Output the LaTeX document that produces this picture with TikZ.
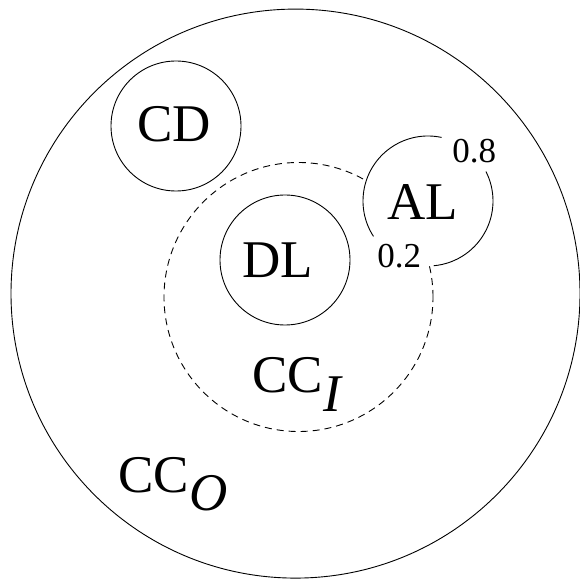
\documentclass[tikz,border=0pt]{standalone}
\usepackage{fontspec}
\setmainfont{Liberation Serif}
\begin{document}
\begin{tikzpicture}[x=1pt,y=1pt,line width=0.9pt,
  ring/.style={circle,draw,minimum size=130pt,inner sep=0pt},
  bigtext/.style={font=\fontsize{53}{56}\selectfont,inner sep=0pt,anchor=base west},
  smalltext/.style={font=\fontsize{35}{38}\selectfont,inner sep=0pt,anchor=base west}]
\useasboundingbox (0,0) rectangle (579,584);
\node[circle,draw,minimum size=569pt,inner sep=0pt] (outer) at (295.5,290.4) {};
\node[circle,draw,dash pattern=on 7pt off 5pt,minimum size=269pt,inner sep=0pt] (inner) at (298.5,287) {};
\node[ring] (cd) at (176,458) {};
\node[ring] (dl) at (285,324) {};
\node[circle,fill=white,minimum size=130pt,inner sep=0pt] (al) at (428,383) {};
\draw ([shift={(78:65)}]al.center) arc[start angle=78,end angle=213,radius=65];
\draw ([shift={(-85:65)}]al.center) arc[start angle=-85,end angle=27,radius=65];
\node[bigtext] (cdt) at (137,442) {CD};
\node[bigtext] (dlt) at (242,306) {DL};
\node[bigtext] (alt) at (387,364) {AL};
\node[smalltext] (p8) at (452,421) {0.8};
\node[smalltext] (p2) at (377,316) {0.2};
\node[bigtext] (cci) at (252,191) {CC\raisebox{-19pt}{\textit{I}}};
\node[bigtext] (cco) at (118,91) {CC\raisebox{-18pt}{\textit{O}}};
\end{tikzpicture}
\end{document}
